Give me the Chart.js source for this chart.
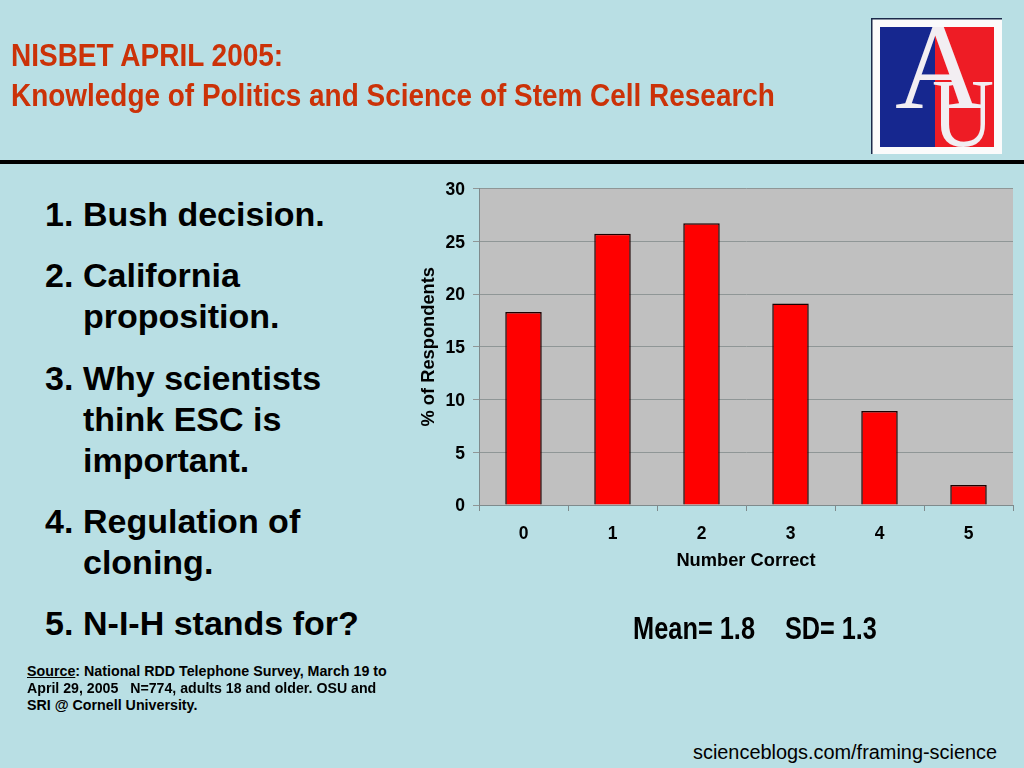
<!DOCTYPE html>
<html>
<head>
<meta charset="utf-8">
<title>Knowledge of Politics and Science of Stem Cell Research</title>
<script src="https://cdn.jsdelivr.net/npm/chart.js@4"></script>
<style>
html, body { margin: 0; padding: 0; }
body { width: 1024px; height: 768px; background: #b9dfe4; position: relative; overflow: hidden; font-family: "Liberation Sans", Arial, sans-serif; color: #000; }
.t { position: absolute; white-space: pre; transform-origin: 0 0; }
.title { left: 11px; font-weight: bold; font-size: 32px; color: #cb3208; line-height: 38px; }
.item { font-weight: bold; font-size: 34px; line-height: 40px; }
.src { left: 27px; font-weight: bold; font-size: 14.25px; line-height: 17px; }
.stat { font-weight: bold; font-size: 31px; line-height: 36px; }
#rule { position: absolute; left: 0; top: 160px; width: 1024px; height: 4px; background: #000; }
#logo { position: absolute; left: 870px; top: 17px; filter: blur(0.5px); }
#wrap { position: absolute; left: 410px; top: 170px; width: 614px; height: 420px; }
canvas { display: block; }
</style>
</head>
<body>
<div class="t title" data-w="272" style="top:36px">NISBET APRIL 2005:</div>
<div class="t title" data-w="764" style="top:76px">Knowledge of Politics and Science of Stem Cell Research</div>
<div id="rule"></div>

<svg id="logo" width="134" height="138" viewBox="0 0 134 138">
  <rect x="1" y="1" width="131" height="136" fill="#fbfbfb"/>
  <rect x="1" y="1" width="131" height="1.5" fill="#1b2a4a"/>
  <rect x="1" y="1" width="1.5" height="136" fill="#1b2a4a"/>
  <rect x="10" y="10" width="55" height="120" fill="#16278f"/>
  <rect x="65" y="10" width="59" height="120" fill="#ee1c25"/>
  <text x="62" y="129" font-family="Liberation Serif" font-size="98" fill="#f2eef2" textLength="62" lengthAdjust="spacingAndGlyphs">U</text>
  <text x="25" y="91" font-family="Liberation Serif" font-size="122" fill="#f2eef2">A</text>
</svg>

<div class="t item" style="left:45px;top:194px">1.</div>
<div class="t item" style="left:83px;top:194px">Bush decision.</div>
<div class="t item" style="left:45px;top:255px">2.</div>
<div class="t item" style="left:83px;top:255px">California</div>
<div class="t item" style="left:83px;top:296px">proposition.</div>
<div class="t item" style="left:45px;top:358px">3.</div>
<div class="t item" style="left:83px;top:358px">Why scientists</div>
<div class="t item" style="left:83px;top:399px">think ESC is</div>
<div class="t item" style="left:83px;top:440px">important.</div>
<div class="t item" style="left:45px;top:501px">4.</div>
<div class="t item" style="left:83px;top:501px">Regulation of</div>
<div class="t item" style="left:83px;top:542px">cloning.</div>
<div class="t item" style="left:45px;top:603px">5.</div>
<div class="t item" style="left:83px;top:603px">N-I-H stands for?</div>

<div class="t src" style="top:663px"><u>Source</u>: National RDD Telephone Survey, March 19 to</div>
<div class="t src" data-w="349" style="top:680px">April 29, 2005   N=774, adults 18 and older. OSU and</div>
<div class="t src" style="top:697px">SRI @ Cornell University.</div>

<div class="t stat" data-w="122" style="left:633px;top:611px">Mean= 1.8</div>
<div class="t stat" data-w="92" style="left:785px;top:611px">SD= 1.3</div>
<div class="t" style="left:693px;top:740px;font-size:19.9px;line-height:24px">scienceblogs.com/framing-science</div>

<div id="wrap"><canvas id="respondentsChart" width="614" height="420"></canvas></div>

<script>
const categories = ['0', '1', '2', '3', '4', '5'];
const percentCorrect = [18.3, 25.7, 26.7, 19.1, 8.9, 1.9];
const yTicks = [0, 5, 10, 15, 20, 25, 30];

// the slide uses a narrow bold face, squeeze the regular one to the same width
document.querySelectorAll('[data-w]').forEach(el => {
    el.style.transform = 'scaleX(' + (el.dataset.w / el.offsetWidth) + ')';
});

const tickFont = { family: '"Liberation Sans", Arial, sans-serif', weight: 'bold', size: 17.5 };
const titleFont = { family: '"Liberation Sans", Arial, sans-serif', weight: 'bold', size: 18.3 };

const plotBackground = {
    id: 'plotBackground',
    beforeDraw(chart) {
        const { ctx, chartArea } = chart;
        ctx.save();
        ctx.fillStyle = '#c0c0c0';
        ctx.fillRect(chartArea.left, chartArea.top, chartArea.width, chartArea.height);
        ctx.restore();
    }
};

const ctx = document.getElementById('respondentsChart').getContext('2d');
new Chart(ctx, {
    type: 'bar',
    data: {
        labels: categories,
        datasets: [{
            label: '% of Respondents',
            data: percentCorrect,
            backgroundColor: '#ff0000',
            borderColor: '#1a0000',
            borderWidth: 1.5,
            barPercentage: 0.41,
            categoryPercentage: 1
        }]
    },
    options: {
        responsive: false,
        animation: false,
        devicePixelRatio: 1,
        layout: { padding: { top: 18, right: 11, left: 8, bottom: 18 } },
        plugins: { legend: { display: false }, tooltip: { enabled: false } },
        scales: {
            x: {
                offset: true,
                afterFit(scale) { scale.height = 67; },
                grid: { display: true, drawOnChartArea: false, drawTicks: true, tickLength: 6, color: '#7f8a8c', offset: true },
                border: { color: '#7f8a8c' },
                ticks: { color: '#000', font: tickFont, padding: 13, maxRotation: 0 },
                title: { display: true, text: 'Number Correct', color: '#000', font: titleFont, padding: { top: 7, bottom: 0 } }
            },
            y: {
                min: 0,
                max: 30,
                afterFit(scale) { scale.width = 61; },
                afterBuildTicks(scale) { scale.ticks = yTicks.map(v => ({ value: v })); },
                grid: { color: '#8f9696', tickLength: 6, lineWidth: 1 },
                border: { color: '#7f8a8c' },
                ticks: { color: '#000', font: tickFont, padding: 8, labelOffset: 1.5 },
                title: { display: true, text: '% of Respondents', color: '#000', font: titleFont, padding: { top: 0, bottom: 6 } }
            }
        }
    },
    plugins: [plotBackground]
});
</script>
</body>
</html>
